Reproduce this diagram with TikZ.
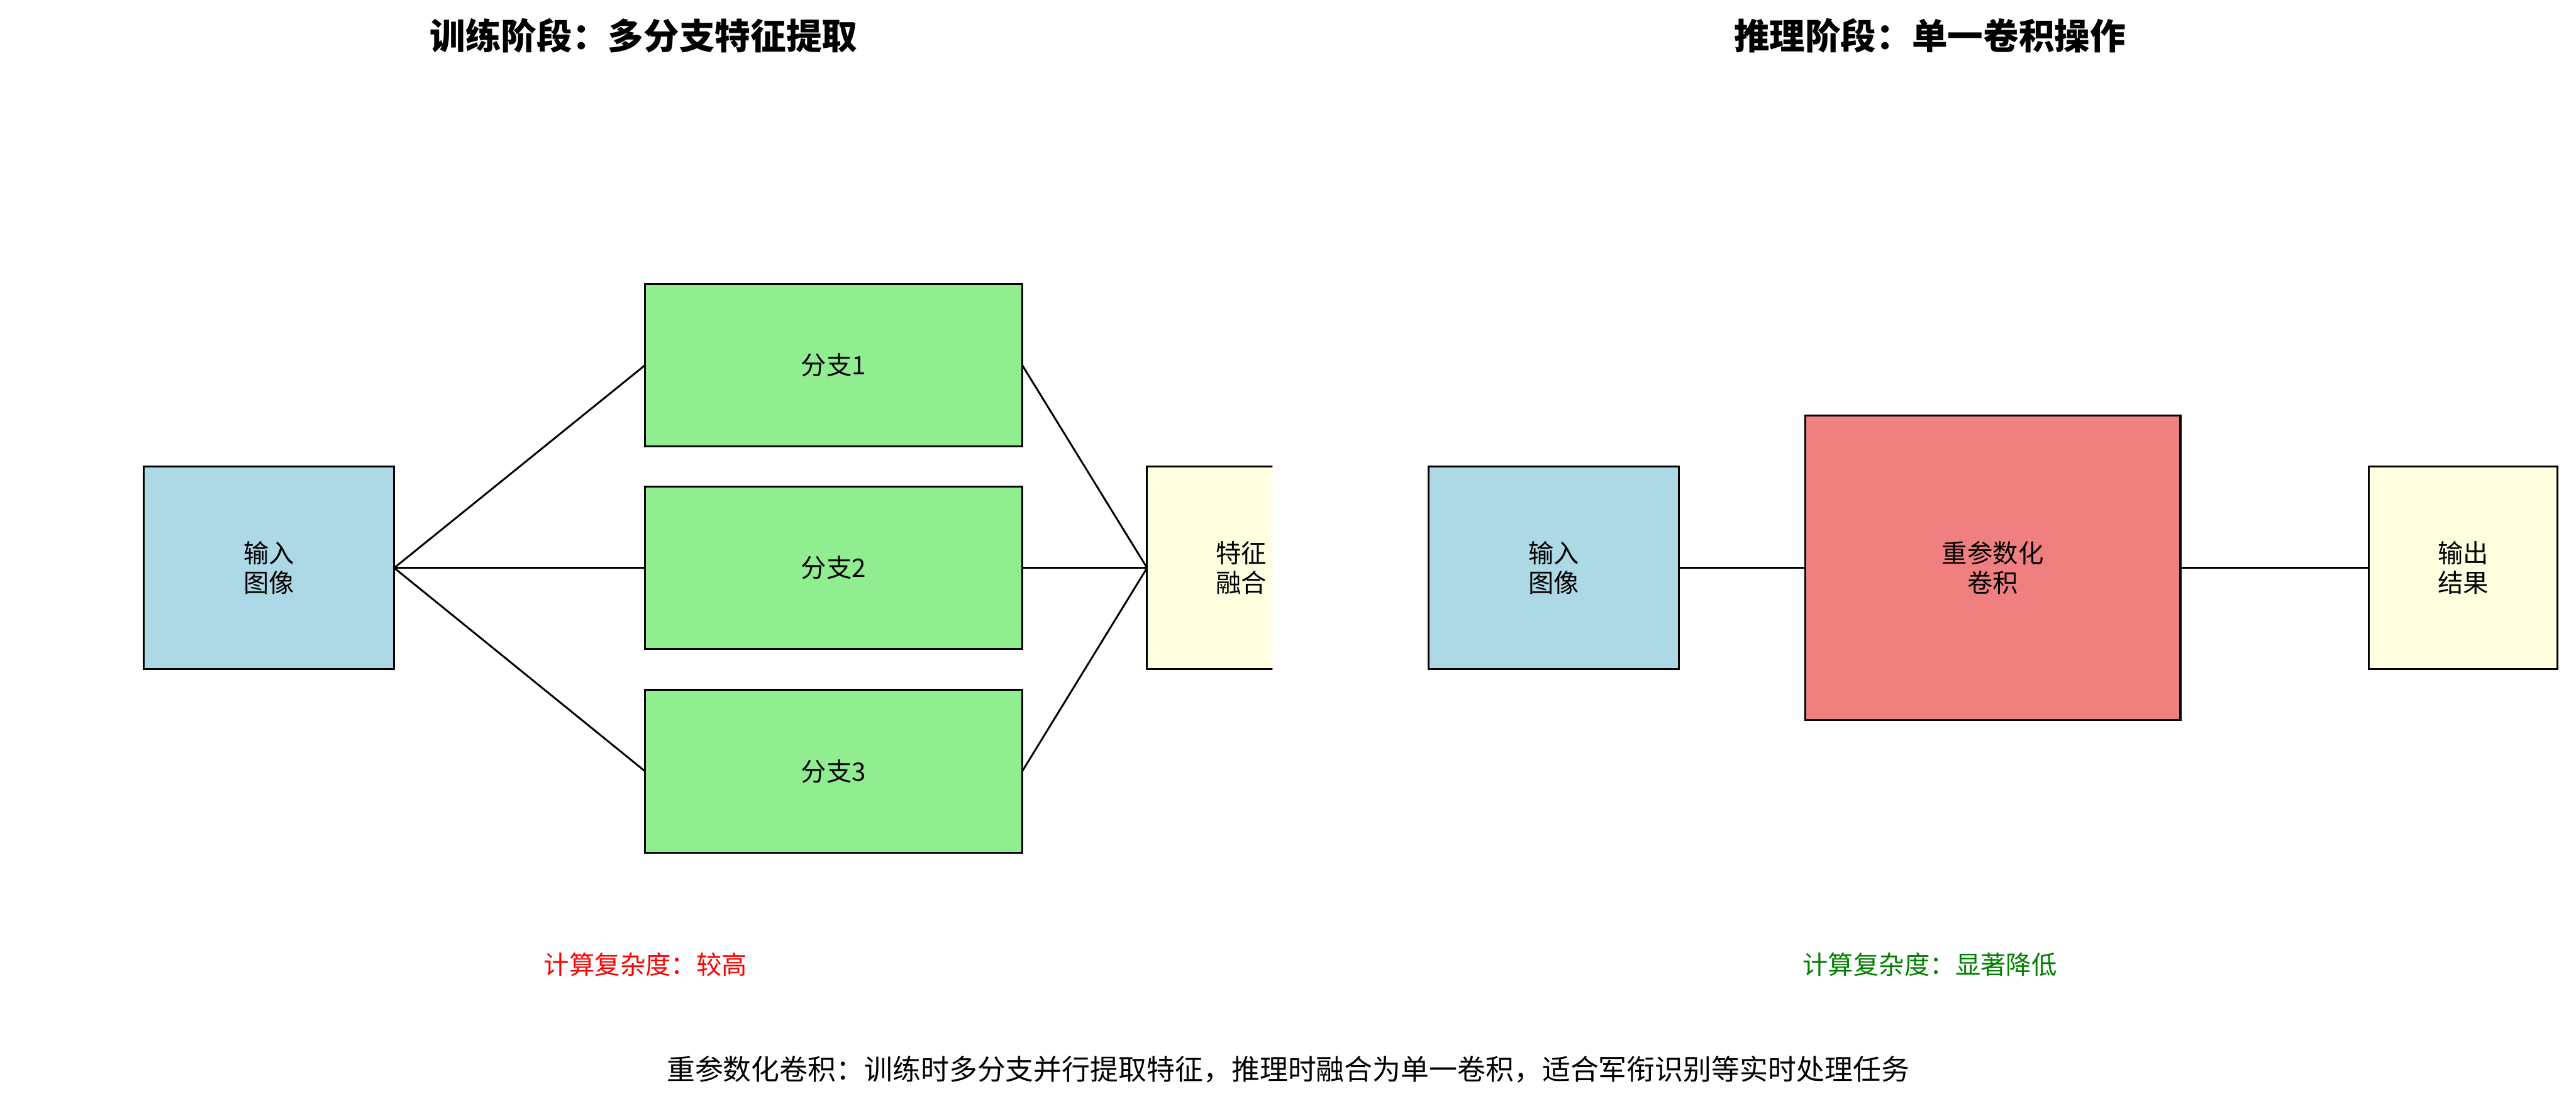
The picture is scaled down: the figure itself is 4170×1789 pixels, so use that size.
\documentclass[tikz,border=0pt]{standalone}
\usepackage{fontspec}
\setmainfont{Noto Sans CJK SC}
\usetikzlibrary{positioning}
\definecolor{inblue}{RGB}{173, 216, 230}
\definecolor{branchgreen}{RGB}{144, 238, 144}
\definecolor{fuseyellow}{RGB}{255, 255, 224}
\definecolor{convred}{RGB}{240, 128, 128}
\definecolor{lowgreen}{RGB}{0, 128, 0}

\begin{document}
\begin{tikzpicture}[x=0.01cm, y=-0.01cm,
        box/.style={draw=black, line width=0.9pt, inner sep=0pt, outer sep=0pt, align=center, font=\fontsize{11.7}{13.8}\selectfont},
        inbox/.style={box, fill=inblue, minimum width=4.05cm, minimum height=3.28cm},
        branch/.style={box, fill=branchgreen, minimum width=6.10cm, minimum height=2.63cm},
        fusebox/.style={box, fill=fuseyellow, minimum width=3.05cm, minimum height=3.28cm},
        convbox/.style={box, fill=convred, minimum width=6.07cm, minimum height=4.92cm},
        title/.style={font=\fontsize{16.4}{19}\selectfont\bfseries},
        note/.style={font=\fontsize{11.7}{14}\selectfont},
        link/.style={line width=0.85pt, black}
      ]
        \useasboundingbox (0,0) rectangle (4170,1789);
        % training stage
        \node[title] (ttrain) at (1042,58) {训练阶段：多分支特征提取};
        \node[inbox] (in1) at (435.5,919) {输入\\图像};
        \node[branch, right=4.06cm of in1] (b2) {分支2};
        \node[branch, above=0.65cm of b2] (b1) {分支1};
        \node[branch, below=0.66cm of b2] (b3) {分支3};
        \begin{scope}
          \clip (0,0) rectangle (2060,1789);
          \node[fusebox, right=2.02cm of b2] (fuse) {特征\\融合};
        \end{scope}
        \draw[link] (in1.east) -- (b1.west);
        \draw[link] (in1.east) -- (b2.west);
        \draw[link] (in1.east) -- (b3.west);
        \draw[link] (b1.east) -- (fuse.west);
        \draw[link] (b2.east) -- (fuse.west);
        \draw[link] (b3.east) -- (fuse.west);
        \node[note, text=red] (ctrain) at (1045,1561) {计算复杂度：较高};
        % inference stage
        \node[title] (tinfer) at (3124,58) {推理阶段：单一卷积操作};
        \node[inbox] (in2) at (2515.5,919) {输入\\图像};
        \node[convbox, right=2.04cm of in2] (conv) {重参数化\\卷积};
        \node[fusebox, right=3.05cm of conv] (out) {输出\\结果};
        \draw[link] (in2) -- (conv);
        \draw[link] (conv) -- (out);
        \node[note, text=lowgreen] (cinfer) at (3124,1561) {计算复杂度：显著降低};
        % caption
        \node[font=\fontsize{13}{15}\selectfont] (caption) at (2085,1731) {重参数化卷积：训练时多分支并行提取特征，推理时融合为单一卷积，适合军衔识别等实时处理任务};
      \end{tikzpicture}
\end{document}
